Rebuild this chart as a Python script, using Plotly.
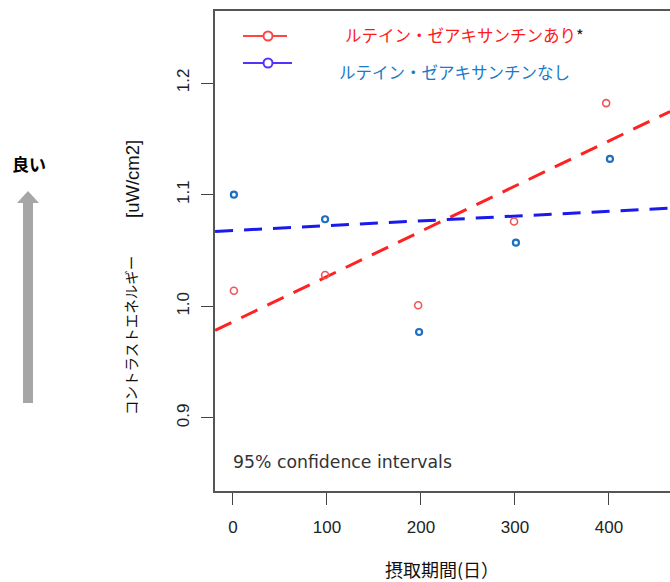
import plotly.graph_objects as go

# ---- data ----
days_with = [1, 98, 197, 299, 397]
ce_with = [1.014, 1.028, 1.001, 1.076, 1.182]
days_without = [1, 98, 198, 301, 401]
ce_without = [1.100, 1.078, 0.977, 1.057, 1.132]

fit_days = [-19, 465]
fit_with = [0.9785, 1.1745]
fit_without = [1.0671, 1.0879]

x_ticks = [0, 100, 200, 300, 400]
y_ticks = [0.9, 1.0, 1.1, 1.2]

label_with = "ルテイン・ゼアキサンチンあり"
label_without = "ルテイン・ゼアキサンチンなし"
x_title = "摂取期間(日）"
y_title_jp = "コントラストエネルギー"
y_title_unit = "[uW/cm2]"
note = "95% confidence intervals"
good = "良い"

W, H = 670, 582
L, R, T, B = 215, 0, 11, 91
PW, PH = W - L - R, H - T - B


def px(x):
    return (x - L) / PW


def py(y):
    return (H - B - y) / PH


JP = "Noto Sans CJK JP"
LAT = "Liberation Sans"

fig = go.Figure()
fig.add_trace(go.Scatter(x=fit_days, y=fit_with, mode="lines",
                         line=dict(color="#ff2222", width=3, dash="18px,11px"),
                         showlegend=False, hoverinfo="skip"))
fig.add_trace(go.Scatter(x=fit_days, y=fit_without, mode="lines",
                         line=dict(color="#1a1aee", width=3, dash="18px,11px"),
                         showlegend=False, hoverinfo="skip"))
fig.add_trace(go.Scatter(x=days_with, y=ce_with, mode="markers",
                         marker=dict(symbol="circle-open", size=7, color="#f05555",
                                     line=dict(width=1.6)),
                         showlegend=False))
fig.add_trace(go.Scatter(x=days_without, y=ce_without, mode="markers",
                         marker=dict(symbol="circle-open", size=6, color="#1f6fbf",
                                     line=dict(width=2.2)),
                         showlegend=False))

shapes = []
# legend glyphs
shapes.append(dict(type="line", xref="paper", yref="paper",
                   x0=px(243), x1=px(287), y0=py(36), y1=py(36),
                   line=dict(color="#ff4444", width=2)))
shapes.append(dict(type="circle", xref="paper", yref="paper",
                   x0=px(263.5), x1=px(272.5), y0=py(40.5), y1=py(31.5),
                   line=dict(color="#ff4444", width=2), fillcolor="white"))
shapes.append(dict(type="line", xref="paper", yref="paper",
                   x0=px(243), x1=px(292), y0=py(63), y1=py(63),
                   line=dict(color="#5533ff", width=2)))
shapes.append(dict(type="circle", xref="paper", yref="paper",
                   x0=px(263.5), x1=px(272.5), y0=py(67.5), y1=py(58.5),
                   line=dict(color="#5533ff", width=2), fillcolor="white"))
# "good" arrow
shapes.append(dict(type="path", xref="paper", yref="paper",
                   path="M {} {} L {} {} L {} {} L {} {} L {} {} L {} {} L {} {} Z".format(
                       px(23), py(403), px(33), py(403), px(33), py(203),
                       px(39), py(203), px(28), py(191), px(17), py(203),
                       px(23), py(203)),
                   fillcolor="#a6a6a6", line=dict(width=0)))

annotations = [
    dict(text=label_with + "<span style='color:#222'>*</span>", x=px(343), y=py(35),
         xref="paper", yref="paper", xanchor="left", yanchor="middle", showarrow=False,
         font=dict(family=JP, size=16.5, color="#ff1a1a")),
    dict(text=label_without, x=px(337), y=py(72),
         xref="paper", yref="paper", xanchor="left", yanchor="middle", showarrow=False,
         font=dict(family=JP, size=16.5, color="#1a7ac8")),
    dict(text=note, x=px(231), y=py(462),
         xref="paper", yref="paper", xanchor="left", yanchor="middle", showarrow=False,
         font=dict(family="DejaVu Sans", size=17.3, color="#333333")),
    dict(text=x_title, x=px(442), y=py(569),
         xref="paper", yref="paper", xanchor="center", yanchor="middle", showarrow=False,
         font=dict(family=JP, size=18, color="#111111")),
    dict(text=y_title_jp, x=px(131), y=py(336), textangle=-90,
         xref="paper", yref="paper", xanchor="center", yanchor="middle", showarrow=False,
         font=dict(family=JP, size=14.5, color="#111111")),
    dict(text=y_title_unit, x=px(132), y=py(179), textangle=-90,
         xref="paper", yref="paper", xanchor="center", yanchor="middle", showarrow=False,
         font=dict(family=LAT, size=18.5, color="#111111")),
    dict(text="<b>" + good + "</b>", x=px(29), y=py(163),
         xref="paper", yref="paper", xanchor="center", yanchor="middle", showarrow=False,
         font=dict(family=JP, size=17, color="#000000")),
]

fig.update_layout(
    width=W, height=H,
    margin=dict(l=L, r=R, t=T, b=B, pad=0),
    paper_bgcolor="white", plot_bgcolor="white",
    showlegend=False,
    shapes=shapes, annotations=annotations,
    xaxis=dict(range=[-19.1, 464.9], tickvals=x_ticks, ticktext=[str(v) for v in x_ticks],
               showgrid=False, zeroline=False, showline=True, mirror=True,
               linecolor="#555555", linewidth=1.5,
               ticks="outside", ticklen=12, tickwidth=1.3, tickcolor="#444444",
               ticklabelstandoff=8,
               tickfont=dict(family=LAT, size=17, color="#222222")),
    yaxis=dict(range=[0.8346, 1.2645], tickvals=y_ticks, ticktext=["0.9", "1.0", "1.1", "1.2"],
               tickangle=-90,
               showgrid=False, zeroline=False, showline=True, mirror=False,
               linecolor="#555555", linewidth=1.5,
               ticks="outside", ticklen=12, tickwidth=1.3, tickcolor="#444444",
               ticklabelstandoff=5,
               tickfont=dict(family=LAT, size=17, color="#222222")),
)

fig.write_html("out.html", config={"displayModeBar": False},
               post_script="document.body.style.margin='0';document.body.style.overflow='hidden';")
